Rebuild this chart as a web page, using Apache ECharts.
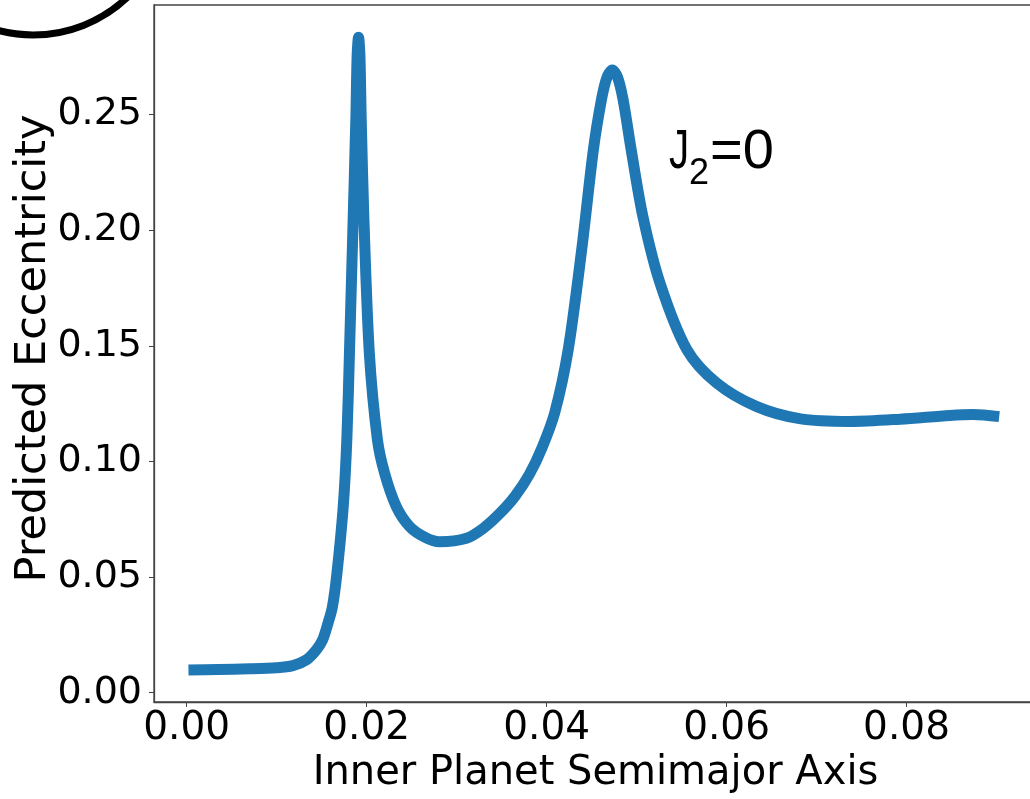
<!DOCTYPE html>
<html>
<head>
<meta charset="utf-8">
<script src="https://cdn.jsdelivr.net/npm/echarts@6/dist/echarts.min.js"></script>
<style>
html,body{margin:0;padding:0;background:#fff;}
#chart{width:1030px;height:799px;}
</style>
</head>
<body>
<div id="chart"></div>
<script>
// Data
const semimajorAxis = [0.0002,0.0035,0.0070,0.0100,0.0118,0.0133,0.0144,0.0151,0.0157,0.0162,0.0167,0.0174,0.0178,0.0181,0.0185,0.0188,0.01895,0.0191,0.01925,0.0194,0.0197,0.0203,0.0212,0.0220,0.0233,0.0248,0.0265,0.0281,0.0311,0.0330,0.0348,0.0365,0.0381,0.0395,0.0409,0.0424,0.0439,0.0452,0.0461,0.0467,0.0473,0.0479,0.0485,0.0494,0.0507,0.0526,0.0556,0.0589,0.0633,0.0681,0.0737,0.0793,0.0848,0.0874,0.0903];
const eccentricity  = [0.0098,0.0100,0.0103,0.0108,0.0117,0.0142,0.0185,0.0228,0.0300,0.0372,0.0516,0.0805,0.1094,0.1482,0.2045,0.2478,0.2760,0.2835,0.2760,0.2478,0.2045,0.1469,0.1094,0.0949,0.0805,0.0718,0.0672,0.0653,0.0668,0.0712,0.0775,0.0850,0.0945,0.1060,0.1210,0.1483,0.1916,0.2348,0.2565,0.2660,0.2693,0.2660,0.2565,0.2348,0.2060,0.1772,0.1483,0.1339,0.1238,0.1185,0.1173,0.1183,0.1199,0.1203,0.1194];
const xTicks = [0, 0.02, 0.04, 0.06, 0.08];
const yTicks = [0, 0.05, 0.10, 0.15, 0.20, 0.25];
const xLabel = 'Inner Planet Semimajor Axis';
const yLabel = 'Predicted Eccentricity';

const points = semimajorAxis.map((x, i) => [x, eccentricity[i]]);
const FONT = 'DejaVu Sans';
const ANNO = '"Liberation Sans"';
const chart = echarts.init(document.getElementById('chart'), null, {renderer: 'canvas'});
chart.setOption({
  animation: false,
  backgroundColor: '#fff',
  grid: {left: 154, top: 5, right: -7, bottom: 97, outerBoundsMode: 'none', containLabel: false,
         show: true, borderColor: '#444', borderWidth: 1.3, backgroundColor: 'transparent'},
  xAxis: {
    type: 'value', min: -0.00363, max: 0.0945,
    axisLine: {show: true, onZero: false, lineStyle: {color: '#444', width: 1.3}},
    axisTick: {show: true, customValues: xTicks, length: 5, lineStyle: {color: '#444'}},
    axisLabel: {customValues: xTicks, formatter: v => v.toFixed(2), fontFamily: FONT, fontSize: 39, color: '#000', margin: 7},
    splitLine: {show: false},
    name: xLabel, nameLocation: 'middle', nameGap: 52, nameMoveOverlap: false,
    nameTextStyle: {fontFamily: FONT, fontSize: 40, color: '#000'}
  },
  yAxis: {
    type: 'value', min: -0.00403, max: 0.2974,
    axisLine: {show: true, onZero: false, lineStyle: {color: '#444', width: 1.3}},
    axisTick: {show: true, customValues: yTicks, length: 5, lineStyle: {color: '#444'}},
    axisLabel: {customValues: yTicks, formatter: v => v.toFixed(2), fontFamily: FONT, fontSize: 38, color: '#000', margin: 12},
    splitLine: {show: false},
    name: yLabel, nameLocation: 'middle', nameGap: 99, nameRotate: 90, nameMoveOverlap: false,
    nameTextStyle: {fontFamily: FONT, fontSize: 43, color: '#000', padding: [0, 0, 0, 10]}
  },
  series: [{
    type: 'line', data: points, showSymbol: false, smooth: 0.3,
    lineStyle: {color: '#1f77b4', width: 11, join: 'round', cap: 'butt'},
    clip: false
  }],
  graphic: [
    {type: 'circle', shape: {cx: 33, cy: -102, r: 137}, style: {fill: 'none', stroke: '#000', lineWidth: 7}, z: 100},
    {type: 'text', x: 669, y: 153, scaleX: 0.72, style: {text: 'J', font: '56px ' + ANNO, fill: '#000', verticalAlign: 'middle', align: 'left'}, z: 100},
    {type: 'text', x: 689, y: 174, style: {text: '2', font: '36px ' + ANNO, fill: '#000', verticalAlign: 'middle', align: 'left'}, z: 100},
    {type: 'text', x: 710, y: 153, style: {text: '=0', font: '56px ' + ANNO, fill: '#000', verticalAlign: 'middle', align: 'left'}, z: 100}
  ]
});
</script>
</body>
</html>
